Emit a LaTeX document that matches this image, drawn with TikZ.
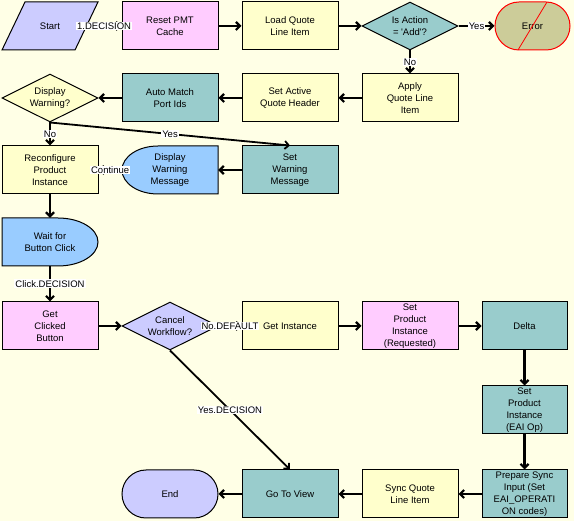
\documentclass[tikz,border=0pt]{standalone}
\usepackage{fontspec}
\setmainfont{Liberation Sans}
\usetikzlibrary{shapes.misc}
\usetikzlibrary{shapes.geometric}
\usetikzlibrary{arrows.meta}

\definecolor{wfback}{RGB}{255,255,230}
\definecolor{wflav}{RGB}{204,204,255}
\definecolor{wfpink}{RGB}{255,204,255}
\definecolor{wfyellow}{RGB}{255,255,204}
\definecolor{wfteal}{RGB}{153,204,204}
\definecolor{wfblue}{RGB}{153,204,255}
\definecolor{wfolive}{RGB}{204,204,153}
\newcommand{\wffont}{\fontsize{9.5}{12}\selectfont}

\tikzset{
	wfstep/.style={rectangle, draw=black, line width=1pt, minimum width=96pt, minimum height=48pt, inner sep=0pt, align=center, font=\wffont},
	wfnarrow/.style={wfstep, minimum width=85pt},
	wfdecide/.style={diamond, draw=black, line width=1pt, aspect=2, minimum width=96pt, minimum height=48pt, inner sep=0pt, align=center, font=\wffont},
	wfstop/.style={rounded rectangle, draw=black, line width=1pt, minimum height=48pt, inner sep=0pt, align=center, font=\wffont},
	wftext/.style={rectangle, draw=none, inner sep=0pt, minimum height=48pt, align=center, font=\wffont},
	wfarrow/.style={line width=2.2pt, -{Straight Barb[length=4pt,width=8pt]}},
	wfslant/.style={wfarrow, line width=1.8pt},
	wflabel/.style={fill=white, inner sep=1pt, font=\wffont}
}

\begin{document}
\begin{tikzpicture}[x=1pt, y=-1pt]
	\fill[wfback] (0,0) rectangle (574,521);
	\useasboundingbox (0,0) rectangle (574,521);
	
	% row 1
	\filldraw[fill=wflav, draw=black, line width=1pt] (2,50) -- (25,2) -- (98,2) -- (75,50) -- cycle;
	\node[wftext, minimum width=73pt] (start) at (50,26) {Start};
	\node[wfstep, fill=wfpink] (reset) at (170,26) {Reset PMT\\Cache};
	\node[wfstep, fill=wfyellow] (load) at (290,26) {Load Quote\\Line Item};
	\node[wfdecide, fill=wfteal] (isadd) at (410,26) {Is Action\\= \textquotesingle Add\textquotesingle ?};
	\node[wfstop, fill=wfolive, draw=red, minimum width=75pt] (error) at (532.5,26) {Error};
	\draw[red, line width=0.8pt] (547,2) -- (518,50);
	
	% row 2
	\node[wfstep, fill=wfyellow] (apply) at (410,98) {Apply\\Quote Line\\Item};
	\node[wfstep, fill=wfyellow] (setactive) at (290,98) {Set Active\\Quote Header};
	\node[wfstep, fill=wfteal] (automatch) at (170,98) {Auto Match\\Port Ids};
	\node[wfdecide, fill=wfyellow] (dispwarn) at (50,98) {Display\\Warning?};
	
	% row 3
	\node[wfstep, fill=wfyellow] (reconf) at (50,170) {Reconfigure\\Product\\Instance};
	\filldraw[fill=wfblue, draw=black, line width=1pt] (158,146) arc[start angle=270, end angle=90, x radius=36, y radius=24] -- (218,194) -- (218,146) -- cycle;
	\node[wftext, minimum width=96pt] (showmsg) at (170,170) {Display\\Warning\\Message};
	\node[wfstep, fill=wfteal] (setwarnmsg) at (290,170) {Set\\Warning\\Message};
	
	% row 4
	\filldraw[fill=wfblue, draw=black, line width=1pt] (2,218) -- (58,218) arc[start angle=270, end angle=450, x radius=40, y radius=24] -- (2,266) -- cycle;
	\node[wftext, minimum width=96pt] (wait) at (50,242) {Wait for\\Button Click};
	
	% row 5
	\node[wfstep, fill=wfpink] (getclicked) at (50,326) {Get\\Clicked\\Button};
	\node[wfdecide, fill=wflav] (cancel) at (170,326) {Cancel\\Workflow?};
	\node[wfstep, fill=wfyellow] (getinst) at (290,326) {Get Instance};
	\node[wfstep, fill=wfpink] (setreq) at (410,326) {Set\\Product\\Instance\\(Requested)};
	\node[wfnarrow, fill=wfteal] (delta) at (524.5,326) {Delta};
	
	% rows 6 and 7
	\node[wfnarrow, fill=wfteal] (seteai) at (524.5,410) {Set\\Product\\Instance\\(EAI Op)};
	\node[wfnarrow, fill=wfteal] (prepsync) at (524.5,494) {Prepare Sync\\Input (Set\\EAI\_OPERATI\\ON codes)};
	\node[wfstep, fill=wfyellow] (syncquote) at (410,494) {Sync Quote\\Line Item};
	\node[wfstep, fill=wfteal] (gotoview) at (290,494) {Go To View};
	\node[wfstop, fill=wflav, minimum width=96pt] (finish) at (170,494) {End};
	
	% connectors
	\draw[wfarrow] (start.east) -- (reset.west) node[midway, wflabel] {1.DECISION};
	\draw[wfarrow] (reset.east) -- (load.west);
	\draw[wfarrow] (load.east) -- (isadd.west);
	\draw[wfarrow] (isadd.east) -- (error.west) node[midway, wflabel] {Yes};
	\draw[wfarrow] (isadd.south) -- (apply.north) node[midway, wflabel] {No};
	\draw[wfarrow] (apply.west) -- (setactive.east);
	\draw[wfarrow] (setactive.west) -- (automatch.east);
	\draw[wfarrow] (automatch.west) -- (dispwarn.east);
	\draw[wfarrow] (dispwarn.south) -- (reconf.north) node[midway, wflabel] {No};
	\draw[wfslant] (dispwarn.south) -- (setwarnmsg.north) node[midway, wflabel] {Yes};
	\draw[wfarrow] (setwarnmsg.west) -- (showmsg.east);
	\draw[wfarrow] (showmsg.west) -- (reconf.east) node[midway, wflabel] {Continue};
	\draw[wfarrow] (reconf.south) -- (wait.north);
	\draw[wfarrow] (wait.south) -- (getclicked.north) node[midway, wflabel] {Click.DECISION};
	\draw[wfarrow] (getclicked.east) -- (cancel.west);
	\draw[wfarrow] (cancel.east) -- (getinst.west) node[midway, wflabel] {No.DEFAULT};
	\draw[wfarrow] (getinst.east) -- (setreq.west);
	\draw[wfarrow] (setreq.east) -- (delta.west);
	\draw[wfarrow] (delta.south) -- (seteai.north);
	\draw[wfarrow] (seteai.south) -- (prepsync.north);
	\draw[wfarrow] (prepsync.west) -- (syncquote.east);
	\draw[wfarrow] (syncquote.west) -- (gotoview.east);
	\draw[wfarrow] (gotoview.west) -- (finish.east);
	\draw[wfslant] (cancel.south) -- (gotoview.north) node[midway, wflabel] {Yes.DECISION};
\end{tikzpicture}
\end{document}
